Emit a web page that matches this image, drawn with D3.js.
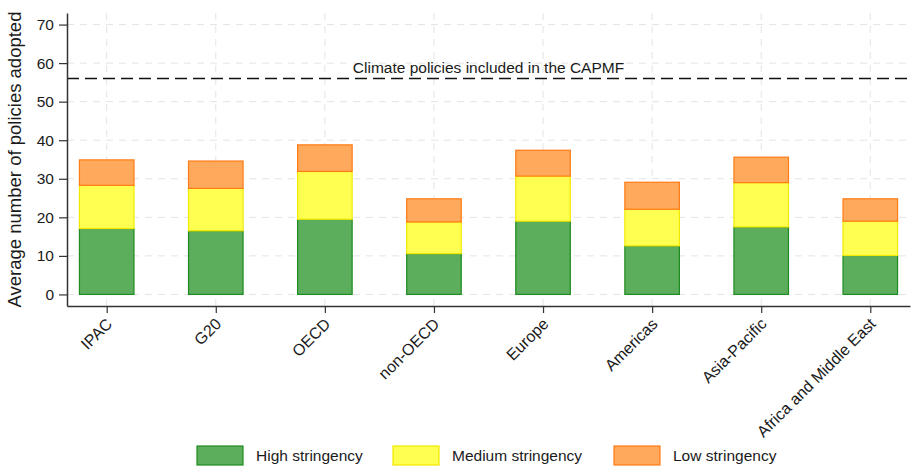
<!DOCTYPE html>
<html>
<head>
<meta charset="utf-8">
<script src="https://cdn.jsdelivr.net/npm/d3@7"></script>
<style>
  html, body { margin: 0; padding: 0; background: #fff; }
  #chart { width: 911px; height: 468px; }
  svg { display: block; font-family: "Liberation Sans", Arial, sans-serif; }
</style>
</head>
<body>
<div id="chart"></div>
<script>
const categories = ['IPAC', 'G20', 'OECD', 'non-OECD', 'Europe', 'Americas', 'Asia-Pacific', 'Africa and Middle East']
const highStringency = [17.1, 16.5, 19.5, 10.6, 19.0, 12.6, 17.5, 10.1]
const mediumStringency = [11.2, 11.0, 12.4, 8.2, 11.7, 9.5, 11.5, 8.9]
const lowStringency = [6.6, 7.1, 6.9, 6.0, 6.7, 7.0, 6.6, 5.8]
const yTicks = [0, 10, 20, 30, 40, 50, 60, 70]
const capmfTotal = 56
const capmfLabel = 'Climate policies included in the CAPMF'

const series = [
  { id: 'high', label: 'High stringency', values: highStringency, fill: '#5cad5c', stroke: '#1f8c1f' },
  { id: 'medium', label: 'Medium stringency', values: mediumStringency, fill: '#ffff52', stroke: '#f2e800' },
  { id: 'low', label: 'Low stringency', values: lowStringency, fill: '#ffa95c', stroke: '#ff7b14' }
]

const width = 911
const height = 468
const margin = { top: 13, right: 1, bottom: 162, left: 67 }

const svg = d3.select('#chart')
  .append('svg')
  .attr('width', width)
  .attr('height', height)
  .attr('viewBox', [0, 0, width, height].join(' '))

// scales
const x = d3.scalePoint()
  .domain(categories)
  .range([margin.left, width - margin.right])
  .padding(0.364)

const y = d3.scaleLinear()
  .domain([-3, 73])
  .range([height - margin.bottom, margin.top])

const barWidth = x.step() * 0.5

// grid
const grid = svg.append('g').attr('class', 'grid')
  .attr('stroke', '#e4e4e4')
  .attr('stroke-width', 1)
  .attr('stroke-dasharray', '7,6')

grid.selectAll('line.h')
  .data(yTicks)
  .join('line')
  .attr('class', 'h')
  .attr('x1', margin.left)
  .attr('x2', width - margin.right)
  .attr('y1', d => y(d))
  .attr('y2', d => y(d))

grid.selectAll('line.v')
  .data(categories)
  .join('line')
  .attr('class', 'v')
  .attr('x1', d => x(d))
  .attr('x2', d => x(d))
  .attr('y1', y.range()[1])
  .attr('y2', y.range()[0])

// stacked bars
const rows = categories.map((c, i) => {
  const row = { category: c }
  series.forEach(s => { row[s.id] = s.values[i] })
  return row
})
const stacked = d3.stack().keys(series.map(s => s.id))(rows)

svg.append('g').attr('class', 'bars')
  .selectAll('g')
  .data(stacked)
  .join('g')
  .attr('fill', (d, i) => series[i].fill)
  .attr('stroke', (d, i) => series[i].stroke)
  .attr('stroke-width', 1.2)
  .selectAll('rect')
  .data(d => d)
  .join('rect')
  .attr('x', d => x(d.data.category) - barWidth / 2)
  .attr('width', barWidth)
  .attr('y', d => y(d[1]))
  .attr('height', d => y(d[0]) - y(d[1]))

// reference line
svg.append('line')
  .attr('x1', margin.left)
  .attr('x2', width - margin.right)
  .attr('y1', y(capmfTotal))
  .attr('y2', y(capmfTotal))
  .attr('stroke', '#111')
  .attr('stroke-width', 1.6)
  .attr('stroke-dasharray', '12,6')

svg.append('text')
  .attr('x', (margin.left + width - margin.right) / 2)
  .attr('y', y(capmfTotal) - 6)
  .attr('text-anchor', 'middle')
  .attr('font-size', 15.5)
  .attr('fill', '#1a1a1a')
  .text(capmfLabel)

// axes
const yAxis = g => g
  .attr('transform', `translate(${margin.left},0)`)
  .call(d3.axisLeft(y).tickValues(yTicks).tickSize(8).tickPadding(5).tickSizeOuter(0))
  .call(g => g.select('.domain').attr('stroke', '#333').attr('stroke-width', 1.5))
  .call(g => g.selectAll('.tick line').attr('stroke', '#333').attr('stroke-width', 1.2))
  .call(g => g.selectAll('.tick text').attr('font-size', 15.5).attr('fill', '#1a1a1a'))

const xAxis = g => g
  .attr('transform', `translate(0,${height - margin.bottom})`)
  .call(d3.axisBottom(x).tickSize(7).tickSizeOuter(0))
  .call(g => g.select('.domain').attr('stroke', '#333').attr('stroke-width', 1.5))
  .call(g => g.selectAll('.tick line').attr('stroke', '#333').attr('stroke-width', 1.2))
  .call(g => g.selectAll('.tick text')
    .attr('font-size', 16)
    .attr('fill', '#1a1a1a')
    .attr('text-anchor', 'end')
    .attr('y', 0)
    .attr('dy', '0.35em')
    .attr('transform', 'translate(2,15) rotate(-45)'))

svg.append('g').attr('class', 'y axis').call(yAxis)
svg.append('g').attr('class', 'x axis').call(xAxis)

svg.append('text')
  .attr('transform', `translate(21,${(y.range()[0] + y.range()[1]) / 2}) rotate(-90)`)
  .attr('text-anchor', 'middle')
  .attr('font-size', 18.5)
  .attr('fill', '#1a1a1a')
  .text('Average number of policies adopted')

// legend
const legendX = [197, 393, 614]
const legend = svg.append('g').attr('class', 'legend')
  .selectAll('g')
  .data(series)
  .join('g')
  .attr('transform', (d, i) => `translate(${legendX[i]},446)`)

legend.append('rect')
  .attr('width', 46)
  .attr('height', 19)
  .attr('fill', d => d.fill)
  .attr('stroke', d => d.stroke)
  .attr('stroke-width', 1.2)

legend.append('text')
  .attr('x', 59)
  .attr('y', 10)
  .attr('dy', '0.35em')
  .attr('font-size', 15.5)
  .attr('fill', '#1a1a1a')
  .text(d => d.label)
</script>
</body>
</html>
